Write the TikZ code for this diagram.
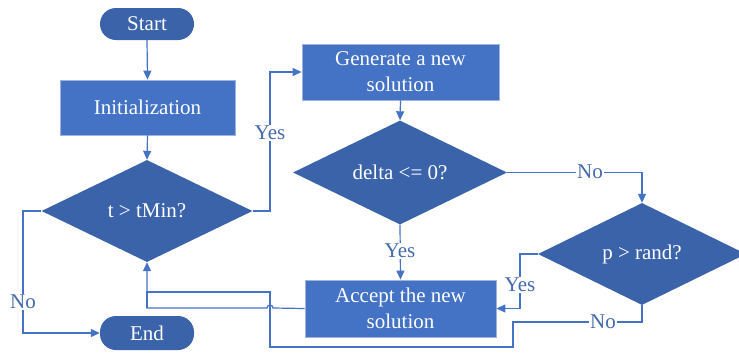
\documentclass[tikz,border=0pt]{standalone}
\usepackage{fontspec}
\setmainfont{Liberation Serif}
\newfontfamily\diagfont{Liberation Serif}
\usetikzlibrary{shapes.geometric,arrows.meta}
\definecolor{boxblue}{HTML}{4472C4}
\definecolor{darkblue}{HTML}{3B63AA}
\definecolor{edgeblue}{HTML}{9FB4DC}
\definecolor{lineblue}{HTML}{4472C4}
\definecolor{lblblue}{HTML}{4469AD}
\begin{document}
\begin{tikzpicture}[x=1pt,y=-1pt,
  every node/.style={font=\diagfont\fontsize{21}{26}\selectfont, align=center, text=white},
  procbox/.style={rectangle, fill=boxblue, draw=edgeblue, line width=0.8pt, inner sep=0pt},
  decbox/.style={diamond, fill=darkblue, aspect=2, inner sep=0pt},
  termbox/.style={rectangle, rounded corners=16pt, fill=darkblue, inner sep=0pt},
  arr/.style={draw=lineblue, line width=1.2pt, -{Triangle[length=9pt,width=8pt]}},
  ln/.style={draw=lineblue, line width=1.2pt},
  lbl/.style={fill=white, text=lblblue, inner sep=1pt}]
\useasboundingbox (0,0) rectangle (739,354);
\clip (0,0) rectangle (739,354);
\fill[white] (0,0) rectangle (739,354);
% nodes
\node[termbox, minimum width=94pt, minimum height=32pt] (start) at (147,24) {Start};
\node[procbox, minimum width=175pt, minimum height=55pt] (init) at (147.5,107.5) {Initialization};
\node[decbox, minimum width=211pt, minimum height=102pt] (d1) at (147,211) {t > tMin?};
\node[procbox, minimum width=197pt, minimum height=56pt] (gen) at (400.5,72) {Generate a new\\solution};
\node[decbox, minimum width=214pt, minimum height=104pt] (d2) at (400,172.5) {delta <= 0?};
\node[decbox, minimum width=208pt, minimum height=102pt] (d3) at (642,254) {p > rand?};
\node[procbox, minimum width=191pt, minimum height=57pt] (acc) at (400.5,308.5) {Accept the new\\solution};
\node[termbox, minimum width=94pt, minimum height=34pt] (end) at (147,333) {End};
% helper coordinates
\coordinate (c1) at (270,211);
\coordinate (c2) at (520,254);
\coordinate (n1) at (642,322);
\coordinate (n2) at (513,322);
\coordinate (n3) at (513,347);
\coordinate (n4) at (270,347);
\coordinate (n5) at (270,292);
\coordinate (n6) at (147,292);
\coordinate (h1) at (273,308);
\coordinate (h2) at (147,308);
\coordinate (l1) at (23,211);
% connectors
\draw[arr] (start.south) -- (init.north);
\draw[arr] (init.south) -- (d1.north);
\draw[arr] (gen.south) -- (d2.north);
\draw[arr] (d1.east) -- (c1) |- (gen.west);
\node[lbl] at (270,133) {Yes};
\draw[arr] (d2.south) -- (acc.north);
\node[lbl] at (400,251) {Yes};
\draw[arr] (d2.east) -| (d3.north);
\node[lbl] at (590,172) {No};
\draw[arr] (d3.west) -- (c2) |- (acc.east);
\node[lbl] at (520,285) {Yes};
\draw[ln] (d3.south) -- (n1) -- (n2) -- (n3) -- (n4) -- (n5) -- (n6) -- (h2);
\node[lbl] at (603,322) {No};
\draw[arr] (acc.west) -- (h1) arc[start angle=0, end angle=180, radius=3pt] -- (h2) -- (d1.south);
\draw[arr] (d1.west) -- (l1) |- (end.west);
\node[lbl] at (23,302) {No};
\end{tikzpicture}
\end{document}
